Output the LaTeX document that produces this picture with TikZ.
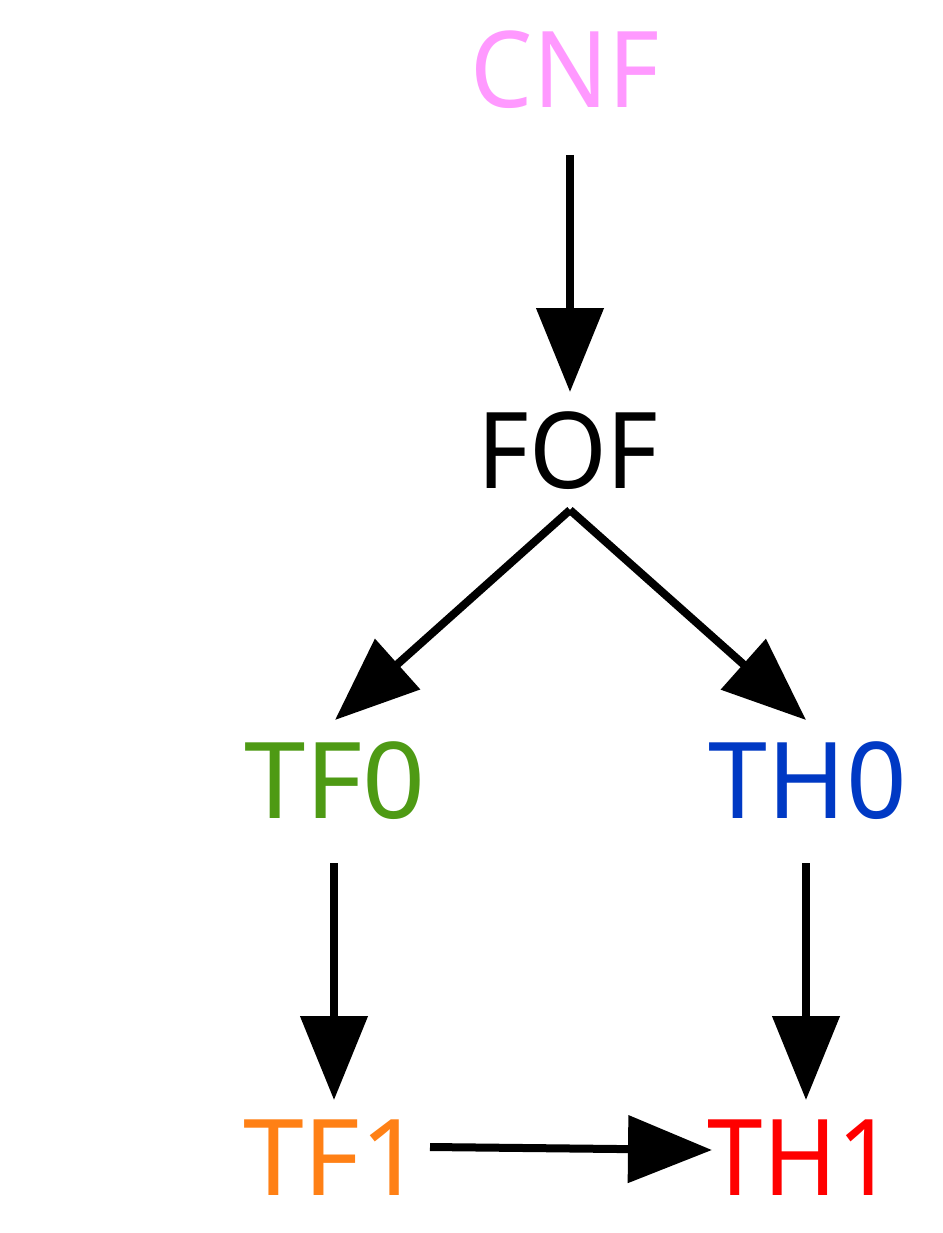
\documentclass[tikz,border=0pt]{standalone}
\usepackage{fontspec}
\setmainfont{Noto Sans}
\newfontfamily\fnA[FakeStretch=0.93]{Noto Sans}
\newfontfamily\fnB[FakeStretch=0.94]{Noto Sans}
\newfontfamily\fnC[FakeStretch=1.04]{Noto Sans}
\newfontfamily\fnD[FakeStretch=1.03]{Noto Sans}
\usetikzlibrary{arrows.meta,calc}
\definecolor{cpink}{HTML}{FF99FF}
\definecolor{cgreen}{HTML}{4E9A14}
\definecolor{cblue}{HTML}{0039C4}
\definecolor{corange}{HTML}{FF8015}
\definecolor{cred}{HTML}{FF0000}
\tikzset{
  lbl/.style={inner sep=0pt, anchor=base, font=\fontsize{106}{110}\selectfont},
  arr/.style={line width=8pt, -{Triangle[length=84pt,width=66pt]}}
}
\begin{document}
\begin{tikzpicture}[x=1pt,y=-1pt]
\useasboundingbox (0,0) rectangle (942,1233);
\node[lbl, text=cpink] (CNF) at (565,108) {\fnA CNF};
\node[lbl, text=black] (FOF) at (568,488) {\fnB FOF};
\node[lbl, text=cgreen] (TF0) at (335,818) {\fnC TF0};
\node[lbl, text=cblue] (TH0) at (808,818) {TH0};
\node[lbl, text=corange] (TF1) at (333,1195) {\fnD TF1};
\node[lbl, text=cred] (TH1) at (801,1195) {\fnB TH1};
\coordinate (fofout) at ($(FOF.base)+(2,22)$);
\draw[arr] ($(CNF.base)+(5,47)$) -- ($(FOF.base)+(2,-96)$);
\draw[arr] (fofout) -- ($(TF0.base)+(0,-98)$);
\draw[arr] (fofout) -- ($(TH0.base)+(-2,-98)$);
\draw[arr] ($(TF0.base)+(-1,45)$) -- ($(TF1.base)+(1,-95)$);
\draw[arr] ($(TH0.base)+(-2,45)$) -- ($(TH1.base)+(5,-95)$);
\draw[arr] ($(TF1.base)+(97,-48)$) -- ($(TH1.base)+(-89,-45)$);
\end{tikzpicture}
\end{document}
